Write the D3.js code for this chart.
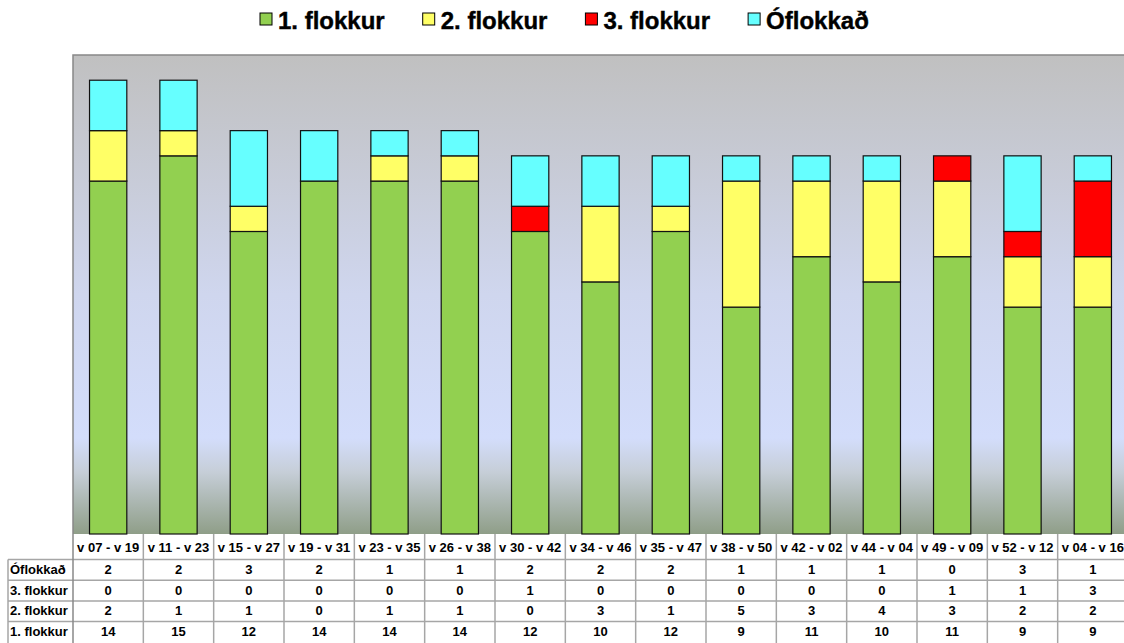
<!DOCTYPE html>
<html>
<head>
<meta charset="utf-8">
<title>Flokkun</title>
<script src="https://d3js.org/d3.v7.min.js"></script>
<style>
body { margin: 0; background: #ffffff; font-family: "Liberation Sans", Arial, sans-serif; }
svg { display: block; }
.tbl text { font-weight: bold; font-size: 13px; fill: #000; }
.legend text { font-weight: bold; font-size: 24px; fill: #000; stroke: #000; stroke-width: 0.4px; }
</style>
</head>
<body>
<script>
'use strict';
// categories (week ranges)
const periods = ['v 07 - v 19', 'v 11 - v 23', 'v 15 - v 27', 'v 19 - v 31', 'v 23 - v 35',
  'v 26 - v 38', 'v 30 - v 42', 'v 34 - v 46', 'v 35 - v 47', 'v 38 - v 50',
  'v 42 - v 02', 'v 44 - v 04', 'v 49 - v 09', 'v 52 - v 12', 'v 04 - v 16'];
const flokkur1 = [14, 15, 12, 14, 14, 14, 12, 10, 12, 9, 11, 10, 11, 9, 9];
const flokkur2 = [2, 1, 1, 0, 1, 1, 0, 3, 1, 5, 3, 4, 3, 2, 2];
const flokkur3 = [0, 0, 0, 0, 0, 0, 1, 0, 0, 0, 0, 0, 1, 1, 3];
const oflokkad = [2, 2, 3, 2, 1, 1, 2, 2, 2, 1, 1, 1, 0, 3, 1];
const seriesNames = ['1. flokkur', '2. flokkur', '3. flokkur', 'Óflokkað'];
const seriesColors = ['#92d050', '#ffff66', '#ff0000', '#66ffff'];
const yMax = 19;

const W = 1124, H = 643;
const plot = {left: 73, top: 55, right: 1128, bottom: 534};

const svg = d3.select('body').append('svg')
  .attr('width', W).attr('height', H);

// background gradient of the plot area
const grad = svg.append('defs').append('linearGradient')
  .attr('id', 'bg').attr('x1', 0).attr('y1', 0).attr('x2', 0).attr('y2', 1);
[[0, '#c0c0c0'], [0.5, '#cfd6ee'], [0.8, '#d3ddfb'], [0.87, '#c6ced8'], [1, '#8f9e88']]
  .forEach(function(s) { grad.append('stop').attr('offset', s[0]).attr('stop-color', s[1]); });

const x = d3.scaleBand()
  .domain(periods)
  .range([plot.left, plot.right])
  .paddingInner(0.47).paddingOuter(0.235);
const col = d3.scaleBand().domain(periods).range([plot.left, plot.right]);

const y = d3.scaleLinear()
  .domain([0, yMax])
  .range([plot.bottom, plot.top]);

svg.append('rect')
  .attr('x', plot.left).attr('y', plot.top)
  .attr('width', plot.right - plot.left).attr('height', plot.bottom - plot.top)
  .attr('fill', 'url(#bg)');
svg.append('path')
  .attr('d', 'M' + plot.left + ',' + plot.bottom + 'V' + plot.top + 'H' + plot.right)
  .attr('fill', 'none').attr('stroke', '#888888').attr('stroke-width', 1.5);

// stacked bars
const rows = periods.map(function(p, i) {
  return {period: p, s0: flokkur1[i], s1: flokkur2[i], s2: flokkur3[i], s3: oflokkad[i]};
});
const stack = d3.stack().keys(['s0', 's1', 's2', 's3'])(rows);

svg.append('g').selectAll('g')
  .data(stack)
  .join('g')
    .attr('fill', function(d, i) { return seriesColors[i]; })
  .selectAll('rect')
  .data(function(d) { return d.filter(function(v) { return v[1] > v[0]; }); })
  .join('rect')
    .attr('x', function(d) { return x(d.data.period); })
    .attr('width', x.bandwidth())
    .attr('y', function(d) { return y(d[1]); })
    .attr('height', function(d) { return y(d[0]) - y(d[1]); })
    .attr('stroke', '#111111')
    .attr('stroke-width', 1.2);

// data table under the chart
const tbl = svg.append('g').attr('class', 'tbl');
const headerBottom = 559.5;
const rowH = 20.7;
const tableRows = [
  {name: 'Óflokkað', values: oflokkad},
  {name: '3. flokkur', values: flokkur3},
  {name: '2. flokkur', values: flokkur2},
  {name: '1. flokkur', values: flokkur1}
];
const lineColor = '#a6a6a6';

// header labels
tbl.selectAll('text.head')
  .data(periods)
  .join('text')
    .attr('class', 'head')
    .attr('x', function(d) { return col(d) + col.bandwidth() / 2; })
    .attr('y', plot.bottom + 18)
    .attr('text-anchor', 'middle')
    .text(function(d) { return d; });

tableRows.forEach(function(r, ri) {
  const top = headerBottom + ri * rowH;
  tbl.append('text')
    .attr('x', 10).attr('y', top + 14.5)
    .text(r.name);
  tbl.selectAll('text.v' + ri)
    .data(r.values)
    .join('text')
      .attr('class', 'v' + ri)
      .attr('x', function(d, i) { return col(periods[i]) + col.bandwidth() / 2; })
      .attr('y', top + 14.5)
      .attr('text-anchor', 'middle')
      .text(function(d) { return d; });
  tbl.append('line')
    .attr('x1', 8).attr('x2', plot.right)
    .attr('y1', top).attr('y2', top)
    .attr('stroke', lineColor).attr('stroke-width', 1.5);
});

// vertical lines of the table
tbl.selectAll('line.vert')
  .data(periods)
  .join('line')
    .attr('class', 'vert')
    .attr('x1', function(d) { return col(d); })
    .attr('x2', function(d) { return col(d); })
    .attr('y1', plot.bottom).attr('y2', H)
    .attr('stroke', function(d, i) { return i === 0 ? '#888888' : lineColor; })
    .attr('stroke-width', 1.5);
tbl.append('line')
  .attr('x1', 8).attr('x2', 8)
  .attr('y1', headerBottom).attr('y2', H)
  .attr('stroke', lineColor).attr('stroke-width', 1.5);

// legend
const legend = svg.append('g').attr('class', 'legend');
let lx = 260;
seriesNames.forEach(function(name, i) {
  legend.append('rect')
    .attr('x', lx).attr('y', 13)
    .attr('width', 12).attr('height', 12)
    .attr('fill', seriesColors[i])
    .attr('stroke', '#000').attr('stroke-width', 1);
  const t = legend.append('text')
    .attr('x', lx + 18).attr('y', 29)
    .text(name);
  lx += 18 + t.node().getComputedTextLength() + 38;
});
</script>
</body>
</html>
